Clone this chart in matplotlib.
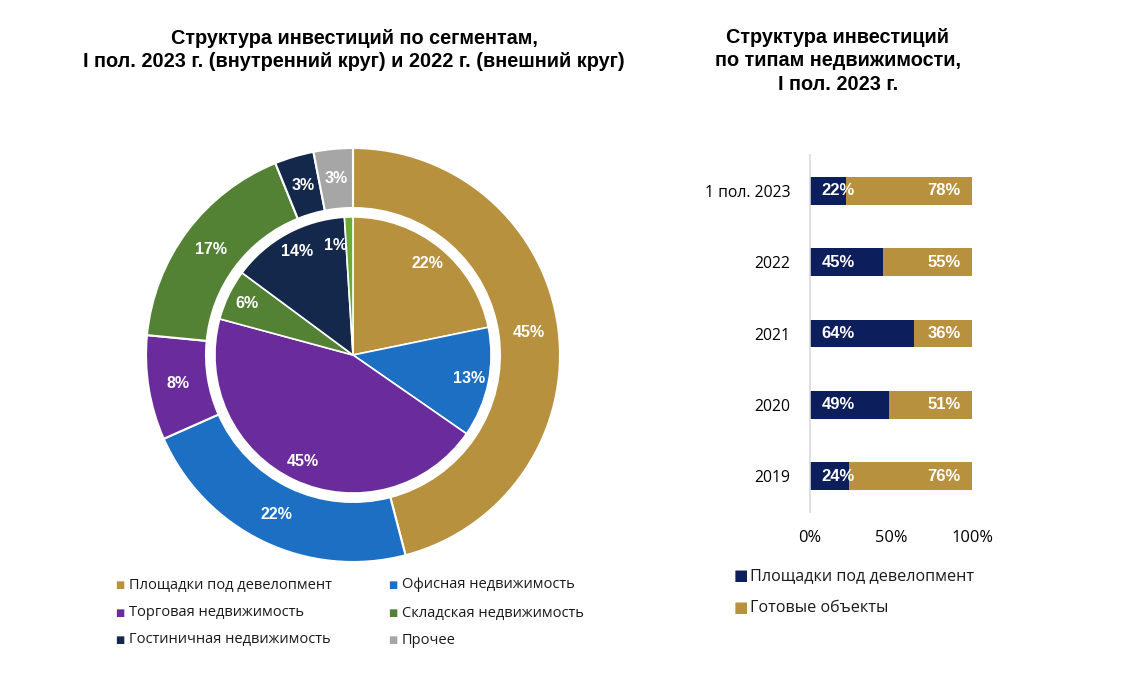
import matplotlib.pyplot as plt
import matplotlib
import numpy as np
matplotlib.rcParams['font.family'] = ['Open Sans', 'DejaVu Sans']

# donut data (clockwise from top)
segments = ['Площадки под девелопмент', 'Офисная недвижимость', 'Торговая недвижимость',
            'Складская недвижимость', 'Гостиничная недвижимость', 'Прочее']
outer_2022 = [45, 22, 8, 17, 3, 3]
inner_2023 = [22, 13, 45, 6, 14, 1]
seg_colors = ['#B8913F', '#1C6FC3', '#6A2C9C', '#548235', '#14284B', '#A6A6A6']
inner_colors = ['#B8913F', '#1C6FC3', '#6A2C9C', '#548235', '#14284B', '#6BAA34']

# bar data
years = ['1 пол. 2023', '2022', '2021', '2020', '2019']
dev_share = [22, 45, 64, 49, 24]
ready_share = [78, 55, 36, 51, 76]
bar_names = ['Площадки под девелопмент', 'Готовые объекты']
bar_colors = ['#0C1E5B', '#B8913F']

W, H = 1131, 691
fig = plt.figure(figsize=(W / 100, H / 100), dpi=100)

title_font = dict(family=['Liberation Sans', 'DejaVu Sans'], fontweight='bold', fontsize=14.3)
lbl_font = dict(family=['Liberation Sans', 'DejaVu Sans'], fontweight='bold', color='white')
fig.text(354 / W, 1 - 50 / H, 'Структура инвестиций по сегментам,\n'
         'I пол. 2023 г. (внутренний круг) и 2022 г. (внешний круг)',
         ha='center', va='center', linespacing=1.3, **title_font)
fig.text(838 / W, 1 - 61 / H, 'Структура инвестиций\nпо типам недвижимости,\nI пол. 2023 г.',
         ha='center', va='center', linespacing=1.3, **title_font)

# --- donut ---
R = 207
ax = fig.add_axes([(353 - R) / W, (H - 355 - R) / H, 2 * R / W, 2 * R / H])
ax.pie(outer_2022, colors=seg_colors, startangle=90, counterclock=False,
       radius=1.0, wedgeprops=dict(width=0.29, edgecolor='white', linewidth=1.5))
ax.pie(inner_2023, colors=inner_colors, startangle=90, counterclock=False,
       radius=0.667, wedgeprops=dict(edgecolor='white', linewidth=1.2))

start = 90.0
tot = sum(outer_2022)
for v in outer_2022:
    span = 360.0 * v / tot
    mid = np.deg2rad(start - span / 2)
    ax.text(0.855 * np.cos(mid), 0.855 * np.sin(mid), f'{v}%', ha='center', va='center',
            fontsize=11.5, **lbl_font)
    start -= span

start = 90.0
tot = sum(inner_2023)
for v in inner_2023:
    span = 360.0 * v / tot
    mid = np.deg2rad(start - span / 2)
    r, dx = 0.57, 0
    if v == 1:
        r, dx = 0.53, -0.07
    ax.text(r * np.cos(mid) + dx, r * np.sin(mid), f'{v}%', ha='center', va='center',
            fontsize=11.5, **lbl_font)
    start -= span
ax.set_xlim(-1, 1)
ax.set_ylim(-1, 1)
ax.set_aspect('equal')
ax.axis('off')

# donut legend
leg_x = [120, 393]
leg_y = [585, 613, 640]
for i, name in enumerate(segments):
    x = leg_x[i % 2]
    y = leg_y[i // 2]
    fig.text(x / W, 1 - y / H, '■', color=seg_colors[i], fontsize=7, ha='center', va='center',
             family='DejaVu Sans')
    fig.text((x + 9) / W, 1 - y / H, name, fontsize=10.5, ha='left', va='center', color='#1a1a1a')

# --- bars ---
bx0, bx1 = 810, 972
by0, by1 = 155, 512
bax = fig.add_axes([bx0 / W, (H - by1) / H, (bx1 - bx0) / W, (by1 - by0) / H])
ypos = list(range(len(years)))[::-1]
bax.barh(ypos, dev_share, height=0.39, color=bar_colors[0])
bax.barh(ypos, ready_share, left=dev_share, height=0.39, color=bar_colors[1])
for y, d, r in zip(ypos, dev_share, ready_share):
    bax.text(7, y, f'{d}%', ha='left', va='center', fontsize=12, **lbl_font)
    bax.text(93, y, f'{r}%', ha='right', va='center', fontsize=12, **lbl_font)
bax.set_xlim(0, 100)
bax.set_ylim(-0.5, 4.5)
bax.set_yticks(ypos)
bax.set_yticklabels(years, fontsize=11.3)
bax.set_xticks([0, 50, 100])
bax.set_xticklabels(['0%', '50%', '100%'], fontsize=11.8)
bax.tick_params(length=0)
bax.tick_params(axis='y', pad=14)
bax.tick_params(axis='x', pad=13)
for s in ['top', 'right', 'bottom']:
    bax.spines[s].set_visible(False)
bax.spines['left'].set_color('#d9d9d9')
bax.spines['left'].set_linewidth(1.2)

for i, name in enumerate(bar_names):
    y = 576 + 32 * i
    fig.text(741 / W, 1 - y / H, '■', color=bar_colors[i], fontsize=11, ha='center', va='center',
             family='DejaVu Sans')
    fig.text(750 / W, 1 - y / H, name, fontsize=11.6, ha='left', va='center', color='#1a1a1a')

fig.savefig('out.png', dpi=100)
